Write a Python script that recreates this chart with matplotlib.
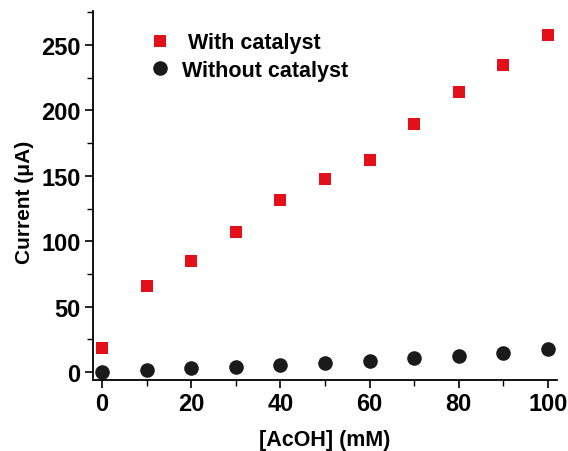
import matplotlib
matplotlib.use("Agg")
import matplotlib.pyplot as plt
from matplotlib.ticker import MultipleLocator

conc = [0, 10, 20, 30, 40, 50, 60, 70, 80, 90, 100]
with_cat = [18.3, 65.6, 85, 107, 131.5, 147.6, 162, 189.5, 214, 235, 258]
without_cat = [0, 1.5, 3, 4.3, 5.8, 7.3, 8.9, 10.7, 12.7, 14.7, 17.5]
labels = [" With catalyst", "Without catalyst"]

plt.rcParams['font.family'] = ['Liberation Sans', 'DejaVu Sans']
plt.rcParams['font.weight'] = 'bold'

fig = plt.figure(figsize=(5.68, 4.52), dpi=100)
ax = fig.add_axes([93/568, 71/452, 464/568, 369/452])

ax.plot(conc, with_cat, 's', color='#e3101a', markersize=8.5, markeredgewidth=0, label=labels[0])
ax.plot(conc, without_cat, 'o', color='#1a1a1a', markersize=10.5, markeredgewidth=0, label=labels[1])

ax.set_xlim(-2, 102)
ax.set_ylim(-6, 276)
ax.xaxis.set_major_locator(MultipleLocator(20))
ax.xaxis.set_minor_locator(MultipleLocator(10))
ax.yaxis.set_major_locator(MultipleLocator(50))
ax.yaxis.set_minor_locator(MultipleLocator(25))
for s in ['top', 'right']:
    ax.spines[s].set_visible(False)
for s in ['left', 'bottom']:
    ax.spines[s].set_linewidth(1.3)
ax.tick_params(which='major', direction='out', length=6, width=1.2, labelsize=17, pad=3)
ax.tick_params(which='minor', direction='out', length=4, width=1.0)
for lab in ax.get_xticklabels() + ax.get_yticklabels():
    lab.set_fontweight('bold')

ax.set_xlabel('[AcOH] (mM)', fontsize=15.5, fontweight='bold', labelpad=9.5)
ax.set_ylabel('Current (μA)', fontsize=15, fontweight='bold')
ax.yaxis.set_label_coords(-0.128, 0.485)

leg = ax.legend(loc='upper left', bbox_to_anchor=(0.08, 0.995), frameon=False,
                fontsize=15.5, handletextpad=0.5, labelspacing=0.3, handlelength=1.0)
for t in leg.get_texts():
    t.set_fontweight('bold')

fig.savefig('out.png', dpi=100)
